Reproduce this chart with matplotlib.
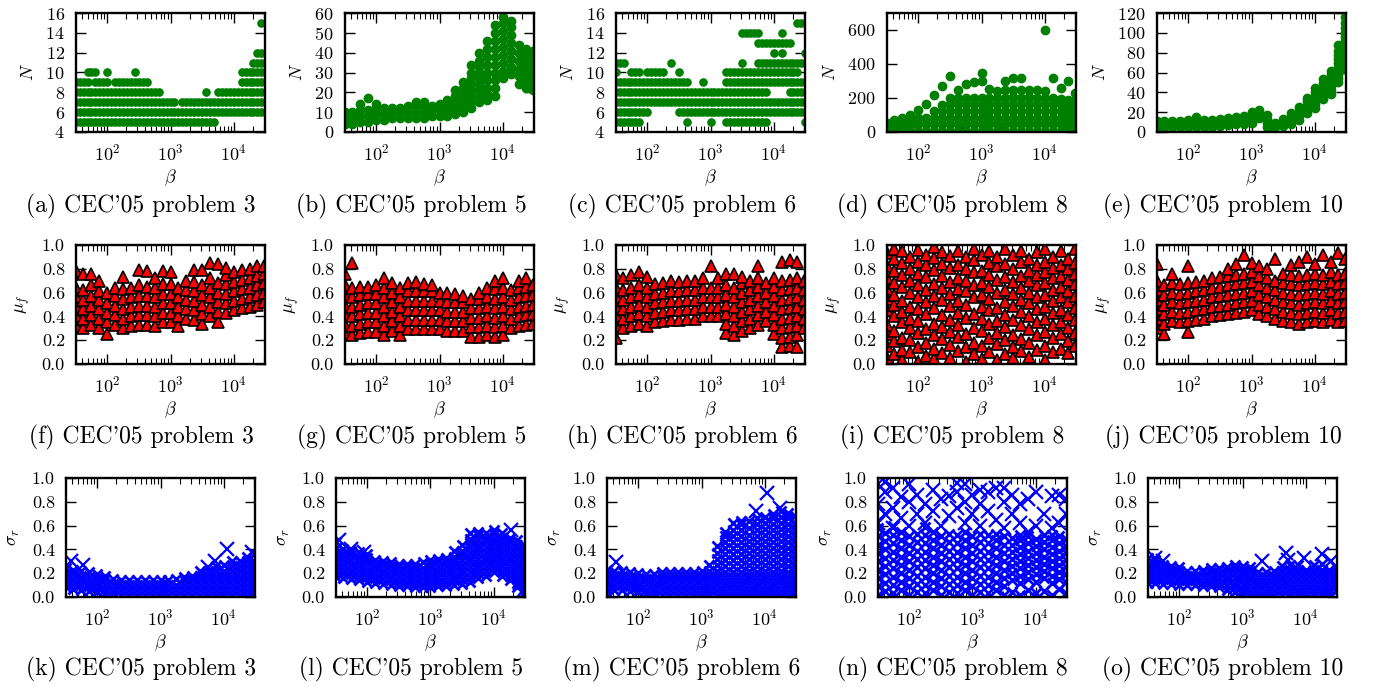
import matplotlib
matplotlib.use("Agg")
import matplotlib.pyplot as plt
from matplotlib.ticker import FormatStrFormatter, LogLocator

plt.rcParams.update({
    "font.family": "serif",
    "font.serif": ["cmr10"],
    "mathtext.fontset": "cm",
    "axes.formatter.use_mathtext": True,
    "font.size": 13,
})

# beta columns the points were read at
BETA = [32, 42, 56, 75, 100, 133, 178, 237, 316, 422, 562, 750, 1000,
        1334, 1778, 2371, 3162, 4217, 5623, 7499, 10000, 13335, 17783, 23714, 30000]
# finer beta steps for the integer-N bands (problems 3 and 6)
BETA1 = [32, 36.5, 42.2, 48.7, 56.2, 64.9, 75.0, 86.6, 100, 115, 133, 154, 178, 205,
         237, 274, 316, 365, 422, 487, 562, 649, 750, 866, 1000, 1155, 1334, 1540,
         1778, 2054, 2371, 2738, 3162, 3652, 4217, 4870, 5623, 6494, 7499, 8660,
         10000, 11548, 13335, 15399, 17783, 20535, 23714, 27384, 31250]

PROBLEMS = ["3", "5", "6", "8", "10"]
LETTERS = "abcdefghijklmno"

# ---- row 1: N ----
# bands of equal N: (N, first beta, last beta)
BANDS_p3 = [(5, 32, 87), (5, 103, 5300), (6, 32, 31250), (7, 32, 1200), (7, 1550, 31250),
            (8, 32, 700), (8, 3652, 3652), (8, 5600, 31250), (9, 32, 53), (9, 64, 104),
            (9, 125, 430), (9, 12400, 31250), (10, 49, 70), (10, 100, 100),
            (10, 274, 274), (10, 13000, 31250), (11, 20000, 31250), (12, 22000, 31250),
            (15, 27384, 27384)]
BANDS_p6 = [(5, 32, 75), (5, 422, 422), (5, 1000, 1000), (5, 1778, 7499), (5, 31250, 31250),
            (6, 32, 100), (6, 316, 31250), (7, 32, 31250), (8, 32, 7499), (8, 17783, 31250),
            (9, 32, 422), (9, 750, 750), (9, 1778, 31250), (10, 32, 32), (10, 56, 75),
            (10, 100, 178), (10, 316, 316), (10, 1778, 23714), (11, 32, 42), (11, 237, 237),
            (11, 3162, 3162), (11, 5623, 31250), (12, 10000, 10000), (12, 13335, 13335),
            (12, 31250, 31250), (13, 5623, 17783), (14, 3162, 5623), (14, 13335, 13335),
            (15, 23714, 31250)]
# clouds: one list of values per BETA column
N_p5 = [[4, 7, 10], [4, 7, 10], [5, 8, 11, 14], [5, 8, 11, 17], [6, 9, 12, 14],
        [6, 9, 12], [7, 10, 12], [7, 10, 12], [7, 10, 13], [7, 10, 13, 15],
        [7, 10, 13, 15], [8, 11, 13], [8, 11, 14], [8, 11, 14, 16], [9, 12, 15, 18, 21],
        [10, 13, 16, 19, 22, 25], [12, 15, 18, 21, 24, 27, 30, 34],
        [15, 18, 21, 24, 27, 30, 33, 36, 40], [16, 19, 22, 26, 30, 34, 38, 42, 46],
        [18, 22, 26, 30, 34, 38, 42, 46, 50, 54], [27, 31, 35, 39, 43, 47, 51, 55, 58],
        [29, 33, 37, 41, 45, 49, 53, 56], [24, 28, 32, 36, 40, 44],
        [22, 26, 30, 34, 38, 42], [21, 25, 29, 33, 37, 41]]
N_p8 = [[8, 30, 52], [8, 30, 52, 68], [8, 35, 60, 80], [8, 40, 70, 100], [8, 45, 80, 130],
        [8, 45, 85, 165], [8, 45, 85, 125, 215], [8, 45, 85, 125, 160, 270],
        [8, 45, 85, 125, 165, 200, 330], [8, 45, 85, 125, 165, 200, 245],
        [8, 45, 85, 125, 165, 200, 280], [8, 45, 85, 125, 165, 200, 295],
        [8, 45, 85, 125, 165, 200, 300, 350], [8, 45, 85, 125, 165, 200, 255],
        [8, 45, 85, 125, 165, 200, 240], [8, 45, 85, 125, 165, 200, 245, 300],
        [8, 45, 85, 125, 165, 205, 250, 320], [8, 45, 85, 125, 165, 200, 245, 315],
        [8, 45, 85, 125, 165, 205, 250], [8, 45, 85, 125, 165, 200, 245],
        [8, 45, 85, 125, 165, 200, 240, 600], [8, 45, 85, 125, 165, 200, 320],
        [8, 45, 85, 125, 165, 195, 260], [8, 45, 85, 125, 160, 190, 300],
        [8, 45, 85, 125, 160, 190, 230]]
N_p10 = [[5, 9, 11], [5, 9, 11], [5, 9, 11], [5, 9, 11], [5, 9, 12], [5, 9, 12, 15],
         [5, 9, 12], [5, 9, 12], [6, 10, 13], [7, 11, 14], [8, 12, 15], [8, 12, 16],
         [9, 13, 17, 20], [14, 18, 22], [5, 9, 13, 17], [5, 9], [6, 10, 13],
         [8, 12, 16, 19], [12, 16, 20, 25], [19, 23, 27, 31, 34], [24, 28, 32, 36, 40, 44],
         [33, 37, 41, 45, 49, 53], [38, 42, 46, 50, 54, 58, 62],
         [50, 54, 58, 62, 66, 70, 74, 78, 82, 88],
         [64, 68, 72, 76, 80, 84, 88, 92, 96, 100, 105, 110, 116]]

# ---- row 2: mu_f ----
MU_p3 = [[0.32, 0.40, 0.48, 0.56, 0.64, 0.78], [0.30, 0.38, 0.46, 0.54, 0.62, 0.76],
         [0.33, 0.41, 0.49, 0.57, 0.66, 0.76], [0.30, 0.38, 0.46, 0.54, 0.61, 0.70],
         [0.25, 0.35, 0.43, 0.51, 0.60], [0.33, 0.41, 0.49, 0.57, 0.64],
         [0.30, 0.38, 0.46, 0.55, 0.63, 0.73], [0.32, 0.40, 0.48, 0.56, 0.64],
         [0.33, 0.41, 0.49, 0.57, 0.66, 0.79], [0.33, 0.41, 0.49, 0.57, 0.65, 0.78],
         [0.32, 0.40, 0.48, 0.56, 0.64, 0.72], [0.35, 0.43, 0.51, 0.59, 0.67, 0.78],
         [0.35, 0.43, 0.51, 0.59, 0.67, 0.77], [0.32, 0.40, 0.48, 0.56, 0.64],
         [0.38, 0.46, 0.54, 0.62, 0.70], [0.37, 0.45, 0.53, 0.61, 0.69, 0.79],
         [0.34, 0.42, 0.50, 0.58, 0.66, 0.79], [0.40, 0.48, 0.56, 0.64, 0.72, 0.85],
         [0.35, 0.44, 0.52, 0.60, 0.68, 0.84], [0.43, 0.51, 0.59, 0.67, 0.75, 0.81],
         [0.45, 0.53, 0.61, 0.69, 0.77], [0.47, 0.55, 0.63, 0.71, 0.79],
         [0.48, 0.56, 0.64, 0.72, 0.80], [0.50, 0.58, 0.66, 0.74, 0.82],
         [0.52, 0.60, 0.68, 0.76, 0.82]]
MU_p5 = [[0.25, 0.33, 0.41, 0.49, 0.57, 0.66, 0.76], [0.24, 0.32, 0.40, 0.48, 0.56, 0.64, 0.85],
         [0.26, 0.34, 0.42, 0.50, 0.58, 0.65], [0.27, 0.35, 0.43, 0.51, 0.59, 0.65],
         [0.27, 0.35, 0.43, 0.51, 0.59, 0.66], [0.24, 0.32, 0.40, 0.48, 0.56, 0.64, 0.72],
         [0.28, 0.36, 0.44, 0.52, 0.60, 0.68], [0.24, 0.32, 0.40, 0.48, 0.56, 0.64],
         [0.29, 0.37, 0.45, 0.53, 0.61, 0.68], [0.29, 0.37, 0.45, 0.53, 0.61, 0.69],
         [0.29, 0.37, 0.45, 0.53, 0.61, 0.67], [0.29, 0.37, 0.45, 0.53, 0.61, 0.66],
         [0.29, 0.37, 0.45, 0.53, 0.60], [0.28, 0.36, 0.44, 0.52, 0.60],
         [0.28, 0.36, 0.44, 0.52, 0.59], [0.28, 0.36, 0.44, 0.52, 0.57],
         [0.23, 0.31, 0.39, 0.47, 0.55], [0.23, 0.31, 0.39, 0.47, 0.55, 0.60],
         [0.24, 0.32, 0.40, 0.48, 0.56, 0.64], [0.23, 0.31, 0.39, 0.47, 0.55, 0.63, 0.70],
         [0.24, 0.32, 0.40, 0.48, 0.56, 0.64, 0.72], [0.30, 0.38, 0.46, 0.54, 0.62],
         [0.32, 0.40, 0.48, 0.56, 0.64, 0.70], [0.33, 0.41, 0.49, 0.57, 0.65, 0.72],
         [0.34, 0.42, 0.50, 0.58, 0.66]]
MU_p6 = [[0.22, 0.32, 0.40, 0.48, 0.56, 0.64, 0.75], [0.30, 0.38, 0.46, 0.54, 0.62, 0.72],
         [0.32, 0.40, 0.48, 0.56, 0.64, 0.75], [0.34, 0.42, 0.50, 0.58, 0.66, 0.77],
         [0.32, 0.40, 0.48, 0.56, 0.64, 0.73], [0.35, 0.43, 0.51, 0.59, 0.67],
         [0.36, 0.44, 0.52, 0.60, 0.68], [0.37, 0.45, 0.53, 0.61, 0.70],
         [0.37, 0.45, 0.53, 0.61, 0.69], [0.38, 0.46, 0.54, 0.62, 0.70],
         [0.38, 0.46, 0.54, 0.62, 0.70], [0.40, 0.48, 0.56, 0.64, 0.72],
         [0.40, 0.48, 0.56, 0.64, 0.82], [0.40, 0.48, 0.56, 0.64, 0.72],
         [0.26, 0.34, 0.42, 0.50, 0.58, 0.66, 0.76], [0.24, 0.32, 0.40, 0.48, 0.56, 0.64, 0.76],
         [0.28, 0.36, 0.44, 0.52, 0.60, 0.68, 0.73], [0.30, 0.38, 0.46, 0.54, 0.62, 0.70],
         [0.33, 0.41, 0.49, 0.57, 0.65, 0.72, 0.82], [0.36, 0.44, 0.52, 0.60, 0.68],
         [0.25, 0.33, 0.41, 0.49, 0.57, 0.65, 0.72],
         [0.14, 0.22, 0.30, 0.38, 0.46, 0.54, 0.62, 0.70, 0.86],
         [0.15, 0.23, 0.31, 0.39, 0.47, 0.55, 0.63, 0.71, 0.87],
         [0.14, 0.24, 0.32, 0.40, 0.48, 0.56, 0.64, 0.72, 0.86],
         [0.30, 0.38, 0.46, 0.54, 0.62, 0.70]]
MU_p8 = [[0.05, 0.15, 0.25, 0.33, 0.45, 0.55, 0.63, 0.72, 0.82, 0.93],
         [0.08, 0.19, 0.28, 0.40, 0.50, 0.58, 0.68, 0.78, 0.88, 0.97],
         [0.03, 0.12, 0.22, 0.35, 0.44, 0.53, 0.65, 0.75, 0.85, 0.95],
         [0.10, 0.20, 0.30, 0.38, 0.48, 0.60, 0.70, 0.80, 0.90],
         [0.02, 0.14, 0.26, 0.36, 0.46, 0.56, 0.66, 0.76, 0.86, 0.96],
         [0.07, 0.18, 0.29, 0.42, 0.52, 0.62, 0.73, 0.83, 0.92],
         [0.04, 0.13, 0.24, 0.34, 0.47, 0.57, 0.67, 0.79, 0.89, 0.98],
         [0.09, 0.21, 0.31, 0.41, 0.54, 0.64, 0.74, 0.84, 0.94],
         [0.05, 0.16, 0.27, 0.37, 0.49, 0.59, 0.69, 0.81, 0.91],
         [0.11, 0.23, 0.33, 0.43, 0.53, 0.63, 0.72, 0.83, 0.95],
         [0.02, 0.14, 0.25, 0.39, 0.50, 0.61, 0.70, 0.80, 0.90],
         [0.08, 0.18, 0.30, 0.42, 0.56, 0.66, 0.77, 0.87, 0.97],
         [0.04, 0.15, 0.28, 0.38, 0.48, 0.58, 0.68, 0.78, 0.92],
         [0.10, 0.22, 0.34, 0.45, 0.55, 0.65, 0.75, 0.85, 0.95],
         [0.03, 0.17, 0.26, 0.36, 0.47, 0.60, 0.71, 0.82, 0.90],
         [0.08, 0.20, 0.31, 0.41, 0.52, 0.62, 0.73, 0.84, 0.97],
         [0.05, 0.14, 0.24, 0.37, 0.49, 0.59, 0.69, 0.80, 0.92],
         [0.11, 0.21, 0.33, 0.44, 0.54, 0.64, 0.74, 0.86, 0.95],
         [0.06, 0.18, 0.29, 0.40, 0.51, 0.60, 0.70, 0.78, 0.88],
         [0.12, 0.24, 0.35, 0.46, 0.56, 0.66, 0.75, 0.83, 0.94],
         [0.03, 0.15, 0.27, 0.38, 0.48, 0.58, 0.68, 0.77, 0.86, 0.97],
         [0.10, 0.22, 0.33, 0.43, 0.53, 0.62, 0.72, 0.81, 0.90],
         [0.13, 0.25, 0.35, 0.45, 0.56, 0.65, 0.74, 0.83, 0.95],
         [0.09, 0.19, 0.30, 0.41, 0.52, 0.61, 0.71, 0.80, 0.88],
         [0.15, 0.26, 0.37, 0.47, 0.57, 0.67, 0.76, 0.85, 0.97]]
MU_p10 = [[0.30, 0.38, 0.46, 0.54, 0.62, 0.70, 0.84], [0.25, 0.34, 0.42, 0.50, 0.58, 0.66],
          [0.36, 0.44, 0.52, 0.60, 0.68, 0.76], [0.35, 0.43, 0.51, 0.59, 0.67],
          [0.27, 0.36, 0.44, 0.52, 0.60, 0.68, 0.82], [0.37, 0.45, 0.53, 0.61, 0.69],
          [0.38, 0.46, 0.54, 0.62, 0.70], [0.40, 0.48, 0.56, 0.64, 0.72],
          [0.41, 0.49, 0.57, 0.65, 0.73], [0.42, 0.50, 0.58, 0.66, 0.74, 0.80],
          [0.43, 0.51, 0.59, 0.67, 0.75, 0.84], [0.44, 0.52, 0.60, 0.68, 0.76, 0.92],
          [0.45, 0.53, 0.61, 0.69, 0.77, 0.85], [0.42, 0.50, 0.58, 0.66, 0.74, 0.82],
          [0.40, 0.48, 0.56, 0.64, 0.72, 0.80], [0.38, 0.46, 0.54, 0.62, 0.70, 0.88],
          [0.36, 0.44, 0.52, 0.60, 0.68, 0.76], [0.35, 0.43, 0.51, 0.59, 0.67, 0.75, 0.83],
          [0.34, 0.42, 0.50, 0.58, 0.66, 0.74, 0.86], [0.35, 0.43, 0.51, 0.59, 0.67, 0.75, 0.90],
          [0.36, 0.44, 0.52, 0.60, 0.68, 0.76, 0.84], [0.35, 0.43, 0.51, 0.59, 0.67, 0.75, 0.92],
          [0.37, 0.45, 0.53, 0.61, 0.69, 0.77, 0.86], [0.35, 0.43, 0.51, 0.59, 0.67, 0.75, 0.93],
          [0.36, 0.44, 0.52, 0.60, 0.68, 0.76, 0.88]]

# ---- row 3: sigma_r (dense cloud) ----
SIG_p3 = [[0.08, 0.12, 0.16, 0.20, 0.24], [0.07, 0.11, 0.15, 0.19, 0.23],
          [0.06, 0.10, 0.14, 0.18, 0.22], [0.05, 0.09, 0.13, 0.17, 0.21],
          [0.04, 0.08, 0.12, 0.16, 0.19], [0.03, 0.07, 0.11, 0.15, 0.18],
          [0.03, 0.07, 0.11, 0.15], [0.02, 0.06, 0.10, 0.14], [0.02, 0.06, 0.10, 0.14],
          [0.02, 0.06, 0.10, 0.14], [0.02, 0.06, 0.10, 0.14], [0.02, 0.06, 0.10, 0.14],
          [0.02, 0.06, 0.10, 0.14], [0.02, 0.06, 0.10, 0.14], [0.02, 0.06, 0.10, 0.15],
          [0.02, 0.06, 0.10, 0.14, 0.17], [0.02, 0.06, 0.10, 0.14, 0.18],
          [0.02, 0.06, 0.10, 0.14, 0.18, 0.22], [0.02, 0.06, 0.10, 0.14, 0.18, 0.22],
          [0.02, 0.06, 0.10, 0.14, 0.18, 0.22, 0.26], [0.02, 0.06, 0.10, 0.14, 0.18, 0.22, 0.27],
          [0.02, 0.06, 0.10, 0.14, 0.18, 0.22, 0.26, 0.30],
          [0.02, 0.06, 0.10, 0.14, 0.18, 0.22, 0.26, 0.30],
          [0.02, 0.06, 0.10, 0.14, 0.18, 0.22, 0.26, 0.30, 0.34],
          [0.02, 0.06, 0.10, 0.14, 0.18, 0.22, 0.26, 0.30, 0.36]]
SIG_p5 = [[0.17, 0.21, 0.25, 0.29, 0.33, 0.37, 0.41, 0.46],
          [0.16, 0.20, 0.24, 0.28, 0.32, 0.36, 0.40],
          [0.15, 0.19, 0.23, 0.27, 0.31, 0.35, 0.39],
          [0.14, 0.18, 0.22, 0.26, 0.30, 0.34, 0.38],
          [0.13, 0.17, 0.21, 0.25, 0.29, 0.33, 0.36],
          [0.12, 0.16, 0.20, 0.24, 0.28, 0.31], [0.11, 0.15, 0.19, 0.23, 0.27, 0.30],
          [0.10, 0.14, 0.18, 0.22, 0.26, 0.29], [0.09, 0.13, 0.17, 0.21, 0.25, 0.28],
          [0.09, 0.13, 0.17, 0.21, 0.25, 0.28], [0.08, 0.12, 0.16, 0.20, 0.24, 0.28],
          [0.08, 0.12, 0.16, 0.20, 0.24, 0.29], [0.08, 0.12, 0.16, 0.20, 0.24, 0.28, 0.31],
          [0.09, 0.13, 0.17, 0.21, 0.25, 0.29, 0.32], [0.09, 0.13, 0.17, 0.21, 0.25, 0.29, 0.33],
          [0.10, 0.14, 0.18, 0.22, 0.26, 0.30, 0.34, 0.39],
          [0.11, 0.15, 0.19, 0.23, 0.27, 0.31, 0.35, 0.39, 0.44],
          [0.13, 0.17, 0.21, 0.25, 0.29, 0.33, 0.37, 0.41, 0.45, 0.49, 0.54],
          [0.16, 0.20, 0.24, 0.28, 0.32, 0.36, 0.40, 0.44, 0.48, 0.52, 0.55],
          [0.18, 0.22, 0.26, 0.30, 0.34, 0.38, 0.42, 0.46, 0.50, 0.54],
          [0.21, 0.25, 0.29, 0.33, 0.37, 0.41, 0.45, 0.49, 0.53, 0.56],
          [0.18, 0.22, 0.26, 0.30, 0.34, 0.38, 0.42, 0.46, 0.50, 0.54],
          [0.14, 0.18, 0.22, 0.26, 0.30, 0.34, 0.38, 0.42, 0.46, 0.50],
          [0.08, 0.12, 0.16, 0.20, 0.24, 0.28, 0.32, 0.36, 0.40, 0.44, 0.48],
          [0.03, 0.07, 0.11, 0.15, 0.19, 0.23, 0.27, 0.31, 0.35, 0.39, 0.44]]
SIG_p6 = [[0.03, 0.07, 0.11, 0.15, 0.19, 0.23], [0.06, 0.10, 0.14, 0.18, 0.22],
          [0.06, 0.10, 0.14, 0.18, 0.22], [0.05, 0.09, 0.13, 0.17, 0.21],
          [0.04, 0.08, 0.12, 0.16, 0.20], [0.03, 0.07, 0.11, 0.15, 0.19],
          [0.03, 0.07, 0.11, 0.15, 0.19], [0.02, 0.06, 0.10, 0.14, 0.18, 0.21],
          [0.02, 0.06, 0.10, 0.14, 0.18, 0.21], [0.02, 0.06, 0.10, 0.14, 0.18, 0.21],
          [0.02, 0.06, 0.10, 0.14, 0.18, 0.21], [0.02, 0.06, 0.10, 0.14, 0.18, 0.21],
          [0.02, 0.06, 0.10, 0.14, 0.18, 0.22], [0.02, 0.06, 0.10, 0.14, 0.18, 0.22, 0.27],
          [0.02, 0.06, 0.10, 0.14, 0.18, 0.22, 0.27, 0.32, 0.37, 0.43],
          [0.01, 0.05, 0.09, 0.13, 0.17, 0.21, 0.26, 0.31, 0.36, 0.41, 0.46, 0.51, 0.55],
          [0.01, 0.05, 0.09, 0.13, 0.17, 0.21, 0.26, 0.31, 0.36, 0.41, 0.46, 0.51, 0.56, 0.62],
          [0.01, 0.05, 0.09, 0.13, 0.17, 0.21, 0.26, 0.31, 0.36, 0.41, 0.46, 0.51, 0.56, 0.61, 0.64],
          [0.02, 0.06, 0.10, 0.14, 0.18, 0.22, 0.27, 0.32, 0.37, 0.42, 0.47, 0.52, 0.58, 0.64],
          [0.01, 0.05, 0.09, 0.13, 0.17, 0.21, 0.26, 0.31, 0.36, 0.41, 0.46, 0.51, 0.56, 0.61, 0.66],
          [0.02, 0.06, 0.10, 0.14, 0.18, 0.22, 0.27, 0.32, 0.37, 0.42, 0.47, 0.52, 0.57, 0.62, 0.67],
          [0.01, 0.05, 0.09, 0.13, 0.17, 0.21, 0.26, 0.31, 0.36, 0.41, 0.46, 0.51, 0.56, 0.61, 0.66, 0.70],
          [0.02, 0.06, 0.10, 0.14, 0.18, 0.22, 0.27, 0.32, 0.37, 0.42, 0.47, 0.52, 0.57, 0.62, 0.67, 0.72],
          [0.01, 0.05, 0.09, 0.13, 0.17, 0.21, 0.26, 0.31, 0.36, 0.41, 0.46, 0.51, 0.56, 0.61, 0.66, 0.71],
          [0.02, 0.06, 0.10, 0.14, 0.18, 0.22, 0.27, 0.32, 0.37, 0.42, 0.47, 0.52, 0.57, 0.62, 0.68]]
SIG_p8 = [[0.02, 0.09, 0.16, 0.23, 0.30, 0.37, 0.44, 0.51, 0.58],
          [0.05, 0.12, 0.19, 0.26, 0.33, 0.40, 0.47, 0.54],
          [0.03, 0.10, 0.17, 0.24, 0.31, 0.38, 0.45, 0.52, 0.60],
          [0.06, 0.13, 0.20, 0.27, 0.34, 0.41, 0.48, 0.55],
          [0.02, 0.09, 0.16, 0.23, 0.30, 0.37, 0.44, 0.51],
          [0.04, 0.11, 0.18, 0.25, 0.32, 0.39, 0.46, 0.53],
          [0.03, 0.10, 0.17, 0.24, 0.31, 0.38, 0.45, 0.52, 0.59],
          [0.06, 0.13, 0.20, 0.27, 0.34, 0.41, 0.48, 0.55],
          [0.02, 0.09, 0.16, 0.23, 0.30, 0.37, 0.44, 0.51],
          [0.04, 0.11, 0.18, 0.25, 0.32, 0.39, 0.46, 0.53],
          [0.03, 0.10, 0.17, 0.24, 0.31, 0.38, 0.45, 0.52],
          [0.06, 0.13, 0.20, 0.27, 0.34, 0.41, 0.48, 0.55],
          [0.02, 0.09, 0.16, 0.23, 0.30, 0.37, 0.44, 0.51],
          [0.04, 0.11, 0.18, 0.25, 0.32, 0.39, 0.46, 0.53],
          [0.03, 0.10, 0.17, 0.24, 0.31, 0.38, 0.45, 0.52],
          [0.06, 0.13, 0.20, 0.27, 0.34, 0.41, 0.48, 0.53],
          [0.02, 0.09, 0.16, 0.23, 0.30, 0.37, 0.44, 0.51],
          [0.04, 0.14, 0.20, 0.26, 0.32, 0.38, 0.44, 0.50],
          [0.02, 0.12, 0.18, 0.24, 0.30, 0.36, 0.42, 0.48, 0.52],
          [0.06, 0.15, 0.21, 0.27, 0.33, 0.39, 0.45, 0.51],
          [0.03, 0.13, 0.19, 0.25, 0.31, 0.37, 0.43, 0.49],
          [0.05, 0.16, 0.22, 0.28, 0.34, 0.40, 0.46, 0.52],
          [0.02, 0.12, 0.18, 0.24, 0.30, 0.36, 0.42, 0.48, 0.52],
          [0.07, 0.15, 0.21, 0.27, 0.33, 0.39, 0.45, 0.51],
          [0.03, 0.13, 0.19, 0.25, 0.31, 0.37, 0.43, 0.49]]
SIG_p10 = [[0.12, 0.16, 0.20, 0.24, 0.28, 0.33], [0.12, 0.16, 0.20, 0.24, 0.28, 0.31],
           [0.11, 0.15, 0.19, 0.23, 0.27], [0.11, 0.15, 0.19, 0.23, 0.26],
           [0.10, 0.14, 0.18, 0.22, 0.25], [0.10, 0.14, 0.18, 0.22], [0.10, 0.14, 0.18, 0.22],
           [0.09, 0.13, 0.17, 0.21, 0.23], [0.09, 0.13, 0.17, 0.21, 0.24],
           [0.08, 0.12, 0.16, 0.20, 0.24], [0.06, 0.10, 0.14, 0.18, 0.22, 0.25],
           [0.04, 0.08, 0.12, 0.16, 0.20, 0.24, 0.27], [0.03, 0.07, 0.11, 0.15, 0.19, 0.23, 0.26],
           [0.02, 0.06, 0.10, 0.14, 0.18, 0.22, 0.25], [0.01, 0.05, 0.09, 0.13, 0.17, 0.21],
           [0.01, 0.05, 0.09, 0.13, 0.17, 0.21], [0.02, 0.06, 0.10, 0.14, 0.18, 0.22],
           [0.02, 0.06, 0.10, 0.14, 0.18, 0.22, 0.26], [0.03, 0.07, 0.11, 0.15, 0.19, 0.23, 0.27],
           [0.03, 0.07, 0.11, 0.15, 0.19, 0.23, 0.27], [0.03, 0.07, 0.11, 0.15, 0.19, 0.23],
           [0.03, 0.07, 0.11, 0.15, 0.19, 0.23, 0.27], [0.03, 0.07, 0.11, 0.15, 0.19, 0.23, 0.28],
           [0.03, 0.07, 0.11, 0.15, 0.19, 0.23], [0.05, 0.09, 0.13, 0.17, 0.21, 0.25]]

# big crosses standing out of the sigma_r clouds
BIG_p3_beta = [39, 59, 5600, 7300, 11300, 28000]
BIG_p3 = [0.30, 0.27, 0.25, 0.30, 0.40, 0.38]
BIG_p5_beta = [36, 56, 89, 19000, 26000, 29000]
BIG_p5 = [0.48, 0.40, 0.38, 0.56, 0.12, 0.05]
BIG_p6_beta = [44, 7400, 10700, 17400]
BIG_p6 = [0.29, 0.72, 0.87, 0.75]
BIG_p8 = [[0.62, 0.78, 0.95], [0.70, 0.88, 0.97], [0.58, 0.75, 0.92], [0.66, 0.84],
          [0.60, 0.80, 0.95], [0.70, 0.86], [0.62, 0.78], [0.72, 0.90], [0.60, 0.82],
          [0.68, 0.85], [0.75, 0.88, 0.96], [0.62, 0.80, 0.95], [0.70, 0.86],
          [0.60, 0.78, 0.90], [0.72, 0.88], [0.65, 0.92], [0.58, 0.80, 0.92], [0.70, 0.86],
          [0.62, 0.78], [0.55, 0.82], [0.60, 0.88], [0.70], [0.58, 0.85], [0.62, 0.86],
          [0.70, 0.82]]
BIG_p10_beta = [41, 55, 2040, 4800, 5200, 9300, 18300, 25000]
BIG_p10 = [0.33, 0.30, 0.30, 0.37, 0.31, 0.33, 0.36, 0.30]


def flatten(cols):
    xs, ys = [], []
    for b, vals in zip(BETA, cols):
        xs.extend([b] * len(vals))
        ys.extend(vals)
    return xs, ys


def band_points(bands):
    xs, ys = [], []
    for n, lo, hi in bands:
        for b in BETA1:
            if lo / 1.05 <= b <= hi * 1.05:
                xs.append(b)
                ys.append(n)
    return xs, ys


W, H = 1374.0, 687.0
LEFTS = [[76, 345, 616, 887, 1157], [76, 345, 616, 887, 1157], [66, 336, 607, 878, 1148]]
TOPS = [13, 245, 478]
AW, AH = 189, 119
CAP_X0, CAP_DX = 141, 270.5
CAP_Y = [206, 437, 669]

fig = plt.figure(figsize=(13.74, 6.87), dpi=100)


def make_ax(r, c, ylim, yticks, ylabel):
    ax = fig.add_axes([LEFTS[r][c] / W, 1 - (TOPS[r] + AH) / H, AW / W, AH / H])
    ax.set_xscale("log")
    ax.set_xlim(32, 31250)
    ax.set_ylim(*ylim)
    ax.set_yticks(yticks)
    ax.xaxis.set_minor_locator(LogLocator(base=10, subs=range(2, 10)))
    ax.tick_params(which="both", direction="in", top=True, right=True, labelsize=13)
    ax.tick_params(which="major", length=7, width=1.0, pad=8)
    ax.tick_params(which="minor", length=4, width=0.8)
    ax.tick_params(axis="y", which="minor", left=False, right=False)
    for s in ax.spines.values():
        s.set_linewidth(1.7)
    ax.set_xlabel(r"$\beta$", fontsize=13, labelpad=3)
    ax.set_ylabel(ylabel, fontsize=13, labelpad=7)
    k = r * 5 + c
    fig.text((CAP_X0 + CAP_DX * c) / W, 1 - CAP_Y[r] / H,
             "(%s) CEC'05 problem %s" % (LETTERS[k], PROBLEMS[c]),
             ha="center", va="center", fontsize=17)
    return ax


GREEN = dict(color="g", mec="g", ls="none")
row1 = [(band_points(BANDS_p3), (4, 16), range(4, 17, 2), 5.2),
        (flatten(N_p5), (0, 60), range(0, 61, 10), 6.0),
        (band_points(BANDS_p6), (4, 16), range(4, 17, 2), 5.2),
        (flatten(N_p8), (0, 700), [0, 200, 400, 600], 6.0),
        (flatten(N_p10), (0, 120), range(0, 121, 20), 6.0)]
for c, ((xs, ys), ylim, yt, ms) in enumerate(row1):
    ax = make_ax(0, c, ylim, list(yt), r"$N$")
    ax.plot(xs, ys, "o", ms=ms, **GREEN)

for c, cols in enumerate([MU_p3, MU_p5, MU_p6, MU_p8, MU_p10]):
    ax = make_ax(1, c, (0, 1), [0, 0.2, 0.4, 0.6, 0.8, 1.0], r"$\mu_f$")
    ax.yaxis.set_major_formatter(FormatStrFormatter("%.1f"))
    xs, ys = flatten(cols)
    ax.plot(xs, ys, "^", mfc="r", mec="k", mew=1.2, ms=8.2, ls="none")

big = [(BIG_p3_beta, BIG_p3), (BIG_p5_beta, BIG_p5), (BIG_p6_beta, BIG_p6),
       flatten(BIG_p8), (BIG_p10_beta, BIG_p10)]
for c, cols in enumerate([SIG_p3, SIG_p5, SIG_p6, SIG_p8, SIG_p10]):
    ax = make_ax(2, c, (0, 1), [0, 0.2, 0.4, 0.6, 0.8, 1.0], r"$\sigma_r$")
    ax.yaxis.set_major_formatter(FormatStrFormatter("%.1f"))
    xs, ys = flatten(cols)
    ax.plot(xs, ys, "x", color="b", ms=6.5, mew=2.0, ls="none")
    bx, by = big[c]
    ax.plot(bx, by, "x", color="b", ms=10, mew=1.6, ls="none")

fig.savefig("out.png", dpi=100)
